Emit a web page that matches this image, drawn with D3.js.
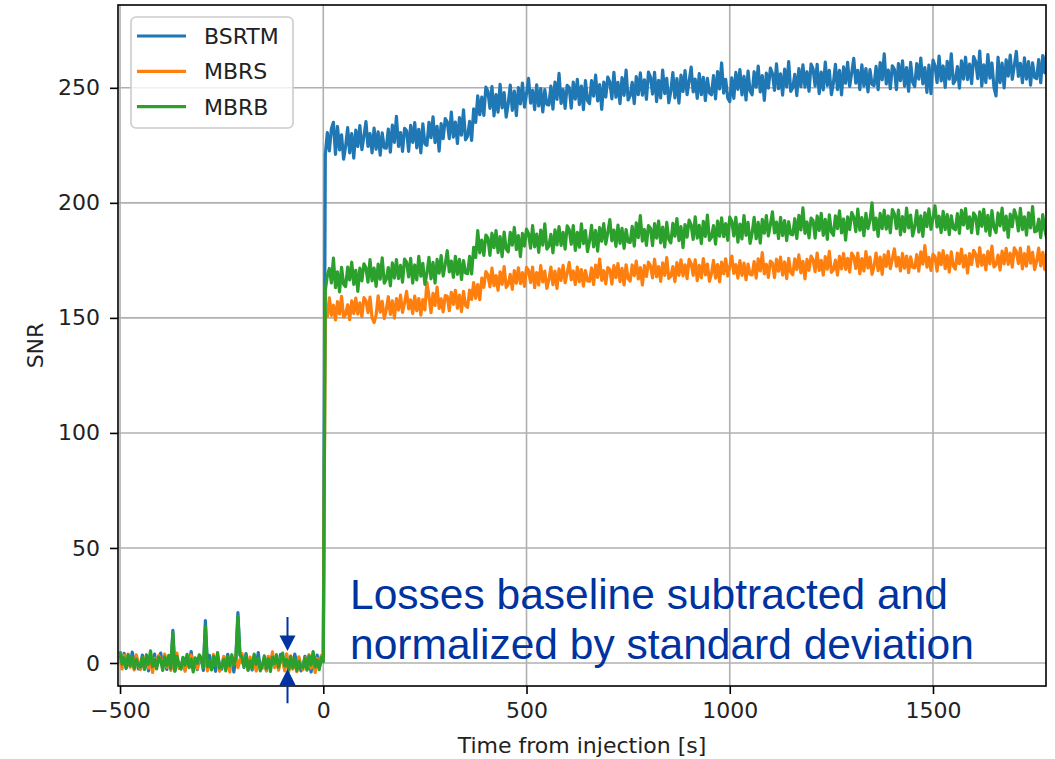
<!DOCTYPE html>
<html>
<head>
<meta charset="utf-8">
<script src="https://cdn.jsdelivr.net/npm/d3@7"></script>
<style>
  html, body { margin: 0; padding: 0; background: #fff; }
  svg { display: block; }
</style>
</head>
<body>
<div id="chart-container"></div>
<script>
// Temps depuis l'injection (s), un point toutes les 5 s
const time = [
  -500,-495,-490,-485,-480,-475,-470,-465,-460,-455,
  -450,-445,-440,-435,-430,-425,-420,-415,-410,-405,
  -400,-395,-390,-385,-380,-375,-370,-365,-360,-355,
  -350,-345,-340,-335,-330,-325,-320,-315,-310,-305,
  -300,-295,-290,-285,-280,-275,-270,-265,-260,-255,
  -250,-245,-240,-235,-230,-225,-220,-215,-210,-205,
  -200,-195,-190,-185,-180,-175,-170,-165,-160,-155,
  -150,-145,-140,-135,-130,-125,-120,-115,-110,-105,
  -100,-95,-90,-85,-80,-75,-70,-65,-60,-55,
  -50,-45,-40,-35,-30,-25,-20,-15,-10,-5,
  0,
  5,10,15,20,25,30,35,40,45,50,
  55,60,65,70,75,80,85,90,95,100,
  105,110,115,120,125,130,135,140,145,150,
  155,160,165,170,175,180,185,190,195,200,
  205,210,215,220,225,230,235,240,245,250,
  255,260,265,270,275,280,285,290,295,300,
  305,310,315,320,325,330,335,340,345,350,
  355,360,365,370,375,380,385,390,395,400,
  405,410,415,420,425,430,435,440,445,450,
  455,460,465,470,475,480,485,490,495,500,
  505,510,515,520,525,530,535,540,545,550,
  555,560,565,570,575,580,585,590,595,600,
  605,610,615,620,625,630,635,640,645,650,
  655,660,665,670,675,680,685,690,695,700,
  705,710,715,720,725,730,735,740,745,750,
  755,760,765,770,775,780,785,790,795,800,
  805,810,815,820,825,830,835,840,845,850,
  855,860,865,870,875,880,885,890,895,900,
  905,910,915,920,925,930,935,940,945,950,
  955,960,965,970,975,980,985,990,995,1000,
  1005,1010,1015,1020,1025,1030,1035,1040,1045,1050,
  1055,1060,1065,1070,1075,1080,1085,1090,1095,1100,
  1105,1110,1115,1120,1125,1130,1135,1140,1145,1150,
  1155,1160,1165,1170,1175,1180,1185,1190,1195,1200,
  1205,1210,1215,1220,1225,1230,1235,1240,1245,1250,
  1255,1260,1265,1270,1275,1280,1285,1290,1295,1300,
  1305,1310,1315,1320,1325,1330,1335,1340,1345,1350,
  1355,1360,1365,1370,1375,1380,1385,1390,1395,1400,
  1405,1410,1415,1420,1425,1430,1435,1440,1445,1450,
  1455,1460,1465,1470,1475,1480,1485,1490,1495,1500,
  1505,1510,1515,1520,1525,1530,1535,1540,1545,1550,
  1555,1560,1565,1570,1575,1580,1585,1590,1595,1600,
  1605,1610,1615,1620,1625,1630,1635,1640,1645,1650,
  1655,1660,1665,1670,1675,1680,1685,1690,1695,1700,
  1705,1710,1715,1720,1725,1730,1735,1740,1745,1750,
  1755,1760,1765,1770,1775,1780
];

const bsrtm = [
  3.2,-0.7,4.2,-2.4,1.8,-1.5,4.7,0.2,2.9,-2.6,
  -0.8,3.4,-2.2,2.1,-3.4,2.9,0.0,3.9,-1.5,1.6,
  4.3,-1.3,1.5,-2.8,2.8,-2.0,14.2,-3.3,0.8,-1.6,
  -2.1,2.2,-3.1,3.1,-0.9,5.0,-1.8,1.3,-2.9,2.3,
  1.4,-3.2,18.4,-1.2,3.3,-2.5,0.8,-3.6,2.9,-0.7,
  -2.7,2.5,-0.9,3.8,-2.0,1.7,-3.9,2.2,21.9,3.4,
  1.9,-1.9,4.1,-1.6,1.0,-3.0,2.9,-1.1,4.5,-2.2,
  -1.6,1.5,-3.4,2.7,-1.3,3.6,-0.8,2.0,-2.4,3.7,
  2.4,-1.5,3.4,-3.2,1.0,-2.3,3.9,-0.6,2.1,-3.4,
  -1.3,2.9,-2.7,1.6,-3.9,2.4,-0.5,3.4,-2.0,1.1,
  0.8,
  221.0,230.5,222.6,232.2,235.0,221.1,233.2,223.0,229.6,219.0,
  224.6,232.7,221.7,230.1,219.4,231.6,224.5,233.6,223.1,229.0,
  235.3,224.5,230.1,221.7,232.5,223.3,230.9,220.7,230.4,224.0,
  223.8,232.1,222.0,233.8,226.3,237.6,224.5,230.5,222.4,232.4,
  231.3,222.4,233.7,226.3,234.9,223.9,232.0,221.7,234.3,225.6,
  225.0,235.0,228.3,237.4,226.2,233.3,222.5,234.4,227.9,236.6,
  235.2,227.9,239.4,228.6,235.1,225.8,237.1,229.4,240.4,227.4,
  229.0,235.4,227.1,240.9,235.0,246.5,238.3,246.0,238.0,250.3,
  248.5,241.1,250.5,237.8,247.1,239.4,251.5,241.3,247.9,237.3,
  243.1,251.2,240.2,248.6,237.9,250.1,243.0,252.1,241.6,247.5,
  254.1,243.3,248.9,240.5,251.3,242.1,249.7,239.5,249.2,242.8,
  242.5,250.8,240.7,252.5,245.0,256.3,243.2,249.2,241.1,251.1,
  250.1,241.2,252.5,245.1,253.7,242.7,250.8,240.5,253.1,244.4,
  243.1,253.1,246.4,255.5,244.3,251.4,240.6,252.5,246.0,254.7,
  252.5,245.2,256.7,245.9,252.4,243.1,254.4,246.7,257.7,244.7,
  246.5,252.4,243.1,254.9,247.0,256.5,246.8,253.5,245.0,256.8,
  254.7,247.3,256.7,244.0,253.3,245.6,257.7,247.5,254.1,243.5,
  248.5,256.6,245.6,254.0,243.3,255.5,248.4,257.5,247.0,252.9,
  259.0,248.2,253.8,245.4,256.2,247.0,254.6,244.4,254.1,247.7,
  247.0,255.3,245.2,257.0,249.5,260.8,247.7,253.7,245.6,244.0,
  254.3,245.4,256.7,249.3,257.9,246.9,255.0,244.7,257.3,248.6,
  247.0,257.0,250.3,259.4,248.2,255.3,244.5,256.4,249.9,258.6,
  256.2,248.9,260.4,249.6,256.1,246.8,258.1,250.4,261.4,248.4,
  250.0,255.9,246.6,258.4,250.5,260.0,250.3,257.0,248.5,260.3,
  258.2,250.8,260.2,247.5,256.8,249.1,261.2,251.0,257.6,247.0,
  252.1,260.2,249.2,257.6,246.9,259.1,252.0,261.1,250.6,256.5,
  262.8,252.0,257.6,249.2,260.0,250.8,258.4,248.2,257.9,251.5,
  251.0,259.3,249.2,261.0,253.5,264.8,251.7,257.7,249.6,259.6,
  258.1,249.2,260.5,253.1,261.7,250.7,258.8,248.5,261.1,252.4,
  250.5,260.5,253.8,262.9,251.7,258.8,248.0,259.9,247.5,262.1,
  259.6,252.3,263.8,253.0,259.5,250.2,261.5,253.8,264.8,251.8,
  253.3,259.2,249.9,261.7,253.8,263.3,253.6,260.3,251.8,263.6,
  261.4,254.0,266.0,250.7,260.0,252.3,264.4,254.2,260.8,250.2,
  246.5,263.3,252.3,260.7,250.0,262.2,255.1,264.2,253.7,259.6,
  265.8,255.0,260.6,252.2,263.0,253.8,261.4,251.2,260.9,254.5,
  254.0,262.3,252.2,264.0,256.5,266.0
];

const mbrs = [
  2.0,-2.6,3.3,-0.6,3.9,-1.9,1.4,-3.0,3.5,-0.1,
  -2.9,2.3,-1.1,3.6,-2.2,1.5,-4.1,2.0,-0.4,3.2,
  1.7,-2.1,3.9,-1.8,0.8,-3.2,2.7,-1.3,4.3,-2.4,
  -1.8,1.3,-3.6,2.5,-1.5,3.4,-1.0,1.8,-2.6,3.5,
  2.2,-1.7,3.2,-3.4,0.8,-2.5,3.7,-0.8,1.9,-3.6,
  -1.3,2.9,-2.7,1.6,-3.9,2.4,-0.5,3.4,-2.0,1.1,
  4.1,-1.5,1.3,-3.0,2.6,-2.2,1.8,-3.5,0.6,-1.8,
  -2.3,2.0,-3.3,2.9,-1.1,4.8,-2.0,1.1,-3.1,2.1,
  1.2,-3.4,4.0,-3.8,3.1,-2.7,0.6,-3.8,2.7,-0.9,
  -2.9,2.3,-1.1,3.6,-2.2,1.5,-4.1,2.0,-0.4,3.2,
  1.0,
  150.0,150.6,158.7,151.1,155.5,149.1,157.1,151.7,159.4,150.3,
  151.5,155.7,149.2,157.4,151.9,158.6,151.7,156.5,150.5,158.8,
  157.5,152.3,159.0,150.0,148.0,151.2,159.6,152.5,157.2,149.7,
  153.5,159.2,151.5,157.4,149.9,158.4,153.4,159.9,152.4,156.6,
  161.5,153.9,157.8,151.9,159.5,153.1,158.4,151.2,158.0,153.5,
  165.5,159.5,152.3,160.7,155.4,163.4,154.1,158.3,152.6,159.7,
  159.4,153.1,161.1,155.9,162.0,154.2,159.9,152.7,161.5,155.4,
  154.6,162.1,158.0,165.3,158.5,164.5,157.9,167.3,163.3,170.1,
  168.7,163.5,171.6,164.0,168.4,162.0,170.0,164.6,172.3,163.2,
  164.7,168.9,162.4,170.6,165.1,171.8,164.9,169.7,163.7,172.0,
  170.6,165.4,172.1,163.1,169.7,164.3,172.7,165.6,170.3,162.8,
  166.4,172.1,164.4,170.3,162.8,171.3,166.3,172.8,165.3,169.5,
  174.1,166.5,170.4,164.5,172.1,165.7,171.0,163.8,170.6,166.1,
  165.9,171.7,164.5,172.9,167.6,175.6,166.3,170.5,164.8,171.9,
  171.0,164.7,172.7,167.5,173.6,165.8,171.5,164.3,173.1,167.0,
  166.0,173.0,168.4,174.7,166.9,171.9,164.3,172.7,168.0,174.2,
  172.6,167.4,175.5,167.9,172.3,165.9,173.9,168.5,176.2,167.1,
  168.1,172.3,165.8,174.0,168.5,175.2,168.3,173.1,167.1,175.4,
  173.7,168.5,175.2,166.2,172.8,167.4,175.8,168.7,173.4,165.9,
  169.3,175.0,167.3,173.2,165.7,174.2,169.2,175.7,168.2,172.4,
  176.9,169.3,173.2,167.3,174.9,168.5,173.8,166.6,173.4,168.9,
  168.7,174.5,167.3,175.7,170.4,178.4,169.1,173.3,167.6,174.7,
  173.8,167.5,175.5,170.3,176.4,168.6,174.3,167.1,175.9,169.8,
  168.7,175.7,171.1,177.4,169.6,174.6,167.0,175.4,170.7,176.9,
  175.3,170.1,178.2,170.6,175.0,168.6,176.6,171.2,178.9,169.8,
  170.9,175.1,168.6,176.8,171.3,178.0,171.1,175.9,169.9,178.2,
  176.7,171.5,178.2,169.2,175.8,170.4,178.8,171.7,176.4,168.9,
  172.5,178.2,170.5,176.4,168.9,177.4,172.4,178.9,171.4,175.6,
  180.0,172.4,176.3,170.4,178.0,171.6,176.9,169.7,176.5,172.0,
  171.7,177.5,170.3,178.7,173.4,181.4,172.1,176.3,170.6,177.7,
  176.6,170.3,178.3,173.1,179.2,171.4,177.1,169.9,178.7,172.6,
  171.2,178.2,173.6,179.9,172.1,177.1,169.5,177.9,173.2,179.4,
  177.6,172.4,180.5,172.9,177.3,170.9,178.9,173.5,181.2,172.1,
  173.1,177.3,170.8,179.0,173.5,180.2,173.3,178.1,172.1,180.4,
  178.8,173.6,180.3,171.3,177.9,172.5,180.9,173.8,178.5,171.0,
  174.6,180.3,172.6,178.5,171.0,179.5
];

const mbrb = [
  5.1,-0.5,2.3,-2.0,3.6,-1.2,2.8,-2.5,1.6,-0.8,
  -1.8,2.5,-2.8,3.4,-0.6,5.3,-1.5,1.6,-2.6,2.6,
  1.4,-3.2,2.7,-1.2,3.3,-2.5,13.2,-3.6,2.9,-0.7,
  -2.7,2.5,-0.9,3.8,-2.0,1.7,-3.9,2.2,-0.2,3.4,
  1.9,-1.9,15.8,-1.6,1.0,-3.0,2.9,-1.1,4.5,-2.2,
  -1.6,1.5,-3.4,2.7,-1.3,3.6,-0.8,2.0,20.3,3.7,
  2.4,-1.5,3.4,-3.2,1.0,-2.3,3.9,-0.6,2.1,-3.4,
  -1.1,3.1,-2.5,1.8,-3.7,2.6,-0.3,3.6,-1.8,1.3,
  4.3,-1.3,1.5,-2.8,2.8,-2.0,2.0,-3.3,0.8,-1.6,
  -2.1,2.2,-3.1,3.1,-0.9,5.0,-1.8,1.3,-2.9,2.3,
  0.5,
  162.0,168.4,171.5,165.2,176.0,163.1,170.0,161.3,172.0,164.6,
  163.6,172.1,166.5,174.2,164.6,170.7,161.5,171.6,166.1,173.5,
  171.8,165.5,175.3,166.1,171.6,163.7,173.4,166.8,176.1,165.1,
  166.8,171.9,163.9,173.9,167.3,175.3,167.1,172.8,165.5,175.6,
  174.2,167.8,175.9,165.1,173.0,166.5,176.7,168.1,173.7,164.6,
  169.4,176.3,167.0,174.1,165.1,175.4,169.4,177.1,168.2,173.2,
  179.2,170.0,174.7,167.6,176.8,168.9,175.4,166.7,174.9,169.5,
  169.2,176.7,169.1,180.7,176.3,187.9,178.3,183.8,177.2,186.0,
  184.8,177.2,186.8,180.5,187.9,178.4,185.3,176.6,187.3,179.9,
  178.7,187.2,181.6,189.3,179.7,185.8,176.6,186.7,181.2,188.6,
  186.6,180.3,190.1,180.9,186.4,178.5,188.2,181.6,190.9,179.9,
  181.2,186.3,178.3,188.3,181.7,189.7,181.5,187.2,179.9,190.0,
  188.4,182.0,190.1,179.3,187.2,180.7,190.9,182.3,187.9,178.8,
  183.3,190.2,180.9,188.0,179.0,189.3,183.3,191.0,182.1,187.1,
  192.7,183.5,188.2,181.1,190.3,182.4,188.9,180.2,188.4,183.0,
  182.8,189.8,181.2,191.3,184.9,194.5,183.4,188.4,181.5,190.1,
  189.0,181.4,191.0,184.7,192.1,182.6,189.5,180.8,191.5,184.1,
  182.6,191.1,185.5,193.2,183.6,189.7,180.5,190.6,185.1,192.5,
  190.4,184.1,193.9,184.7,190.2,182.3,192.0,185.4,194.7,183.7,
  185.0,190.1,182.1,192.1,185.5,193.5,185.3,191.0,183.7,193.8,
  192.0,185.6,193.7,182.9,190.8,184.3,194.5,185.9,191.5,182.4,
  186.8,193.7,184.4,191.5,182.5,192.8,186.8,194.5,185.6,190.6,
  196.1,186.9,191.6,184.5,193.7,185.8,192.3,183.6,191.8,186.4,
  186.1,193.1,184.5,194.6,188.2,197.8,186.7,191.7,184.8,193.4,
  192.3,184.7,194.3,188.0,195.4,185.9,192.8,184.1,194.8,187.4,
  185.9,194.4,188.8,196.5,186.9,193.0,183.8,193.9,188.4,195.8,
  193.8,187.5,197.3,188.1,193.6,185.7,195.4,188.8,192.5,200.0,
  188.3,193.4,185.4,195.4,188.8,196.8,188.6,194.3,187.0,197.1,
  195.2,188.8,196.9,186.1,194.0,187.5,197.7,189.1,194.7,185.6,
  189.7,196.6,187.3,194.4,185.4,195.7,189.7,197.4,188.5,193.5,
  198.7,189.5,194.2,187.1,196.3,188.4,194.9,186.2,194.4,189.0,
  188.3,195.3,186.7,196.8,190.4,197.5,188.9,193.9,187.0,195.6,
  194.1,186.5,196.1,189.8,197.2,187.7,194.6,185.9,196.6,189.2,
  187.1,195.6,190.0,197.7,188.1,194.2,185.0,195.1,189.6,197.0,
  194.1,187.8,197.6,188.4,193.9,186.0,195.7,189.1,198.4,187.4,
  187.8,192.9,184.9,194.9,188.3,184.5
];

const seriesNames = ["BSRTM", "MBRS", "MBRB"];
const seriesColors = ["#1f77b4", "#ff7f0e", "#2ca02c"];
const xTicks = [-500, 0, 500, 1000, 1500];
const yTicks = [0, 50, 100, 150, 200, 250];
const noteLines = ["Losses baseline subtracted and", "normalized by standard deviation"];

document.addEventListener("DOMContentLoaded", () => {
    const width = 1055;
    const height = 759;
    const marginTop = 5;
    const marginRight = 9;
    const marginBottom = 73;
    const marginLeft = 118;
    const font = "'DejaVu Sans', sans-serif";
    const noteColor = "#0033a0";

    const x = d3.scaleLinear()
        .domain([-505, 1778])
        .range([marginLeft, width - marginRight]);

    const y = d3.scaleLinear()
        .domain([-10, 286])
        .range([height - marginBottom, marginTop]);

    const svg = d3.select("#chart-container")
        .append("svg")
        .attr("width", width)
        .attr("height", height)
        .attr("viewBox", [0, 0, width, height])
        .style("background", "#fff");

    // grille
    svg.append("g")
        .attr("stroke", "#b0b0b0")
        .attr("stroke-width", 1.6)
        .call(g => g.selectAll(".gx").data(xTicks).join("line")
            .attr("class", "gx")
            .attr("x1", d => x(d)).attr("x2", d => x(d))
            .attr("y1", y(286)).attr("y2", y(-10)))
        .call(g => g.selectAll(".gy").data(yTicks).join("line")
            .attr("class", "gy")
            .attr("x1", x(-505)).attr("x2", x(1778))
            .attr("y1", d => y(d)).attr("y2", d => y(d)));

    svg.append("clipPath")
        .attr("id", "clip")
        .append("rect")
        .attr("x", marginLeft)
        .attr("y", marginTop)
        .attr("width", width - marginLeft - marginRight)
        .attr("height", height - marginTop - marginBottom);

    // courbes
    const line = d3.line()
        .x((d, i) => x(time[i]))
        .y(d => y(d));

    svg.append("g")
        .attr("clip-path", "url(#clip)")
        .selectAll("path")
        .data([bsrtm, mbrs, mbrb])
        .join("path")
        .attr("fill", "none")
        .attr("stroke", (d, i) => seriesColors[i])
        .attr("stroke-width", 3.2)
        .attr("stroke-linejoin", "round")
        .attr("d", line);

    // axes
    svg.append("g")
        .attr("transform", `translate(0,${height - marginBottom})`)
        .call(d3.axisBottom(x).tickValues(xTicks).tickFormat(d3.format("d")).tickSize(8).tickPadding(8))
        .call(g => g.select(".domain").remove())
        .call(g => g.selectAll("line").attr("stroke-width", 1.6))
        .call(g => g.selectAll("text")
            .attr("font-family", font)
            .attr("font-size", 22)
            .attr("fill", "#222"));

    svg.append("g")
        .attr("transform", `translate(${marginLeft},0)`)
        .call(d3.axisLeft(y).tickValues(yTicks).tickSize(8).tickPadding(10))
        .call(g => g.select(".domain").remove())
        .call(g => g.selectAll("line").attr("stroke-width", 1.6))
        .call(g => g.selectAll("text")
            .attr("font-family", font)
            .attr("font-size", 22)
            .attr("fill", "#222"));

    // cadre
    svg.append("rect")
        .attr("x", marginLeft)
        .attr("y", marginTop)
        .attr("width", width - marginLeft - marginRight)
        .attr("height", height - marginTop - marginBottom)
        .attr("fill", "none")
        .attr("stroke", "#000")
        .attr("stroke-width", 1.6);

    // titres des axes
    svg.append("text")
        .attr("x", (marginLeft + width - marginRight) / 2)
        .attr("y", 753)
        .attr("text-anchor", "middle")
        .attr("font-family", font)
        .attr("font-size", 22)
        .attr("fill", "#222")
        .text("Time from injection [s]");

    svg.append("text")
        .attr("transform", `translate(43,${(marginTop + height - marginBottom) / 2}) rotate(-90)`)
        .attr("text-anchor", "middle")
        .attr("font-family", font)
        .attr("font-size", 22)
        .attr("fill", "#222")
        .text("SNR");

    // légende
    const legend = svg.append("g").attr("transform", "translate(131,17)");
    legend.append("rect")
        .attr("width", 162)
        .attr("height", 111)
        .attr("rx", 5)
        .attr("fill", "#fff")
        .attr("fill-opacity", 0.8)
        .attr("stroke", "#cccccc")
        .attr("stroke-width", 1.6);
    const entry = legend.selectAll("g.entry")
        .data(seriesNames)
        .join("g")
        .attr("class", "entry")
        .attr("transform", (d, i) => `translate(0,${19 + i * 35.3})`);
    entry.append("line")
        .attr("x1", 6).attr("x2", 55)
        .attr("stroke", (d, i) => seriesColors[i])
        .attr("stroke-width", 3.2);
    entry.append("text")
        .attr("x", 73)
        .attr("y", 8)
        .attr("font-family", font)
        .attr("font-size", 22)
        .attr("fill", "#222")
        .text(d => d);

    // annotation
    svg.append("text")
        .attr("font-family", "'Liberation Sans', Arial, sans-serif")
        .attr("font-size", 42.5)
        .attr("fill", noteColor)
        .selectAll("tspan")
        .data(noteLines)
        .join("tspan")
        .attr("x", x(66))
        .attr("y", (d, i) => y(23.5) + i * 50)
        .text(d => d);

    // flèches sur le bruit de fond
    const ax = x(-88);
    const arrows = svg.append("g").attr("fill", noteColor).attr("stroke", noteColor);
    arrows.append("line")
        .attr("x1", ax).attr("x2", ax)
        .attr("y1", y(20)).attr("y2", y(11))
        .attr("stroke-width", 2);
    arrows.append("path")
        .attr("stroke", "none")
        .attr("d", `M${ax - 8},${y(12)}L${ax + 8},${y(12)}L${ax},${y(5.2)}Z`);
    arrows.append("line")
        .attr("x1", ax).attr("x2", ax)
        .attr("y1", y(-9)).attr("y2", y(-17.5))
        .attr("stroke-width", 2);
    arrows.append("path")
        .attr("stroke", "none")
        .attr("d", `M${ax - 8},${y(-9.6)}L${ax + 8},${y(-9.6)}L${ax},${y(-2.6)}Z`);
});
</script>
</body>
</html>
